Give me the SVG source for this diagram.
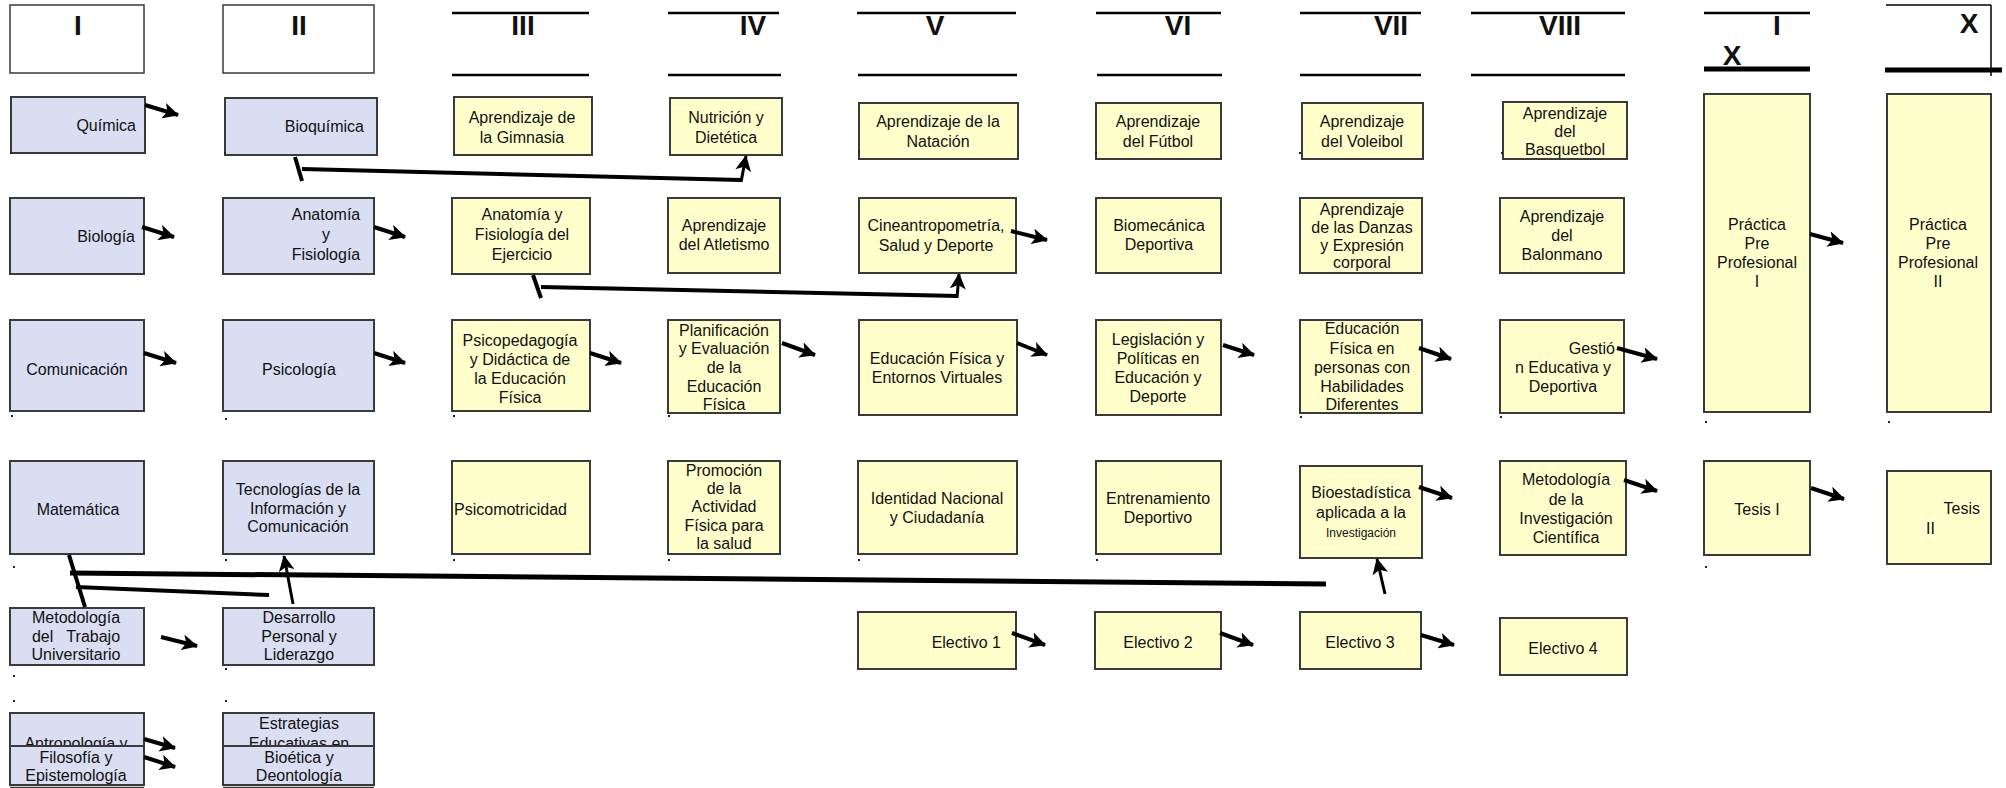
<svg xmlns="http://www.w3.org/2000/svg" width="2006" height="788" viewBox="0 0 2006 788">
<style>
.b{fill:#d9def2;stroke:#3a3a3a;stroke-width:2}
.y{fill:#ffffcc;stroke:#3a3a3a;stroke-width:2}
.hb{fill:#fff;stroke:#3a3a3a;stroke-width:1.5}
text{font-family:"Liberation Sans",Arial,sans-serif;font-size:16px;fill:#111}
.c{text-anchor:middle}
.e{text-anchor:end}
.h{font-size:28px;font-weight:bold;text-anchor:middle}
.hl{stroke:#000;stroke-width:2.5}
.ht{stroke:#000;stroke-width:5}
.k{stroke:#000;stroke-width:4;fill:none}
.a{stroke:#000;stroke-width:4;fill:none;marker-end:url(#ah)}
.au{stroke:#000;stroke-width:3;fill:none;marker-end:url(#ah)}
.d{fill:#222}
</style>
<defs>
<marker id="ah" markerUnits="userSpaceOnUse" markerWidth="18" markerHeight="16" refX="15" refY="8" orient="auto">
<path d="M0,0 L16,8 L0,16 L4,8 z" fill="#000"/>
</marker>
</defs>
<rect width="2006" height="788" fill="#fff"/>

<g id="headers">
<rect class="hb" x="10" y="5" width="134" height="68"/><text class="h" x="78" y="35">I</text>
<rect class="hb" x="223" y="5" width="151" height="68"/><text class="h" x="299" y="35">II</text>
<line class="hl" x1="452" y1="13" x2="589" y2="13"/><line class="hl" x1="452" y1="75" x2="589" y2="75"/><text class="h" x="523" y="35">III</text>
<line class="hl" x1="668" y1="13" x2="779" y2="13"/><line class="hl" x1="668" y1="75" x2="781" y2="75"/><text class="h" x="753" y="35">IV</text>
<line class="hl" x1="857" y1="13" x2="1016" y2="13"/><line class="hl" x1="858" y1="75" x2="1017" y2="75"/><text class="h" x="935" y="35">V</text>
<line class="hl" x1="1096" y1="13" x2="1221" y2="13"/><line class="hl" x1="1097" y1="75" x2="1222" y2="75"/><text class="h" x="1178" y="35">VI</text>
<line class="hl" x1="1300" y1="13" x2="1421" y2="13"/><line class="hl" x1="1300" y1="75" x2="1421" y2="75"/><text class="h" x="1391" y="35">VII</text>
<line class="hl" x1="1471" y1="13" x2="1625" y2="13"/><line class="hl" x1="1471" y1="75" x2="1625" y2="75"/><text class="h" x="1560" y="35">VIII</text>
<line class="hl" x1="1704" y1="13" x2="1810" y2="13"/><line class="ht" x1="1704" y1="69" x2="1810" y2="69"/><text class="h" x="1777" y="35">I</text><text class="h" x="1732" y="65">X</text>
<line stroke="#000" stroke-width="1.5" x1="1886" y1="5" x2="1991" y2="5"/><line stroke="#000" stroke-width="1.5" x1="1991" y1="5" x2="1991" y2="76"/><line class="ht" x1="1885" y1="70" x2="2002" y2="70"/><text class="h" x="1969" y="33">X</text>
</g>

<g id="quimica"><rect class="b" x="11" y="97" width="134" height="56"/><text class="e" x="136" y="131">Química</text></g>
<g id="bioquimica"><rect class="b" x="225" y="98" width="152" height="57"/><text class="e" x="364" y="132">Bioquímica</text></g>
<g id="gimnasia"><rect class="y" x="454" y="97" width="138" height="58"/><text class="c" x="522" y="123">Aprendizaje de</text><text class="c" x="522" y="143">la Gimnasia</text></g>
<g id="nutricion"><rect class="y" x="670" y="98" width="112" height="57"/><text class="c" x="726" y="123">Nutrición y</text><text class="c" x="726" y="143">Dietética</text></g>
<g id="natacion"><rect class="y" x="859" y="103" width="159" height="56"/><text class="c" x="938" y="127">Aprendizaje de la</text><text class="c" x="938" y="147">Natación</text></g>
<g id="futbol"><rect class="y" x="1096" y="103" width="125" height="56"/><text class="c" x="1158" y="127">Aprendizaje</text><text class="c" x="1158" y="147">del Fútbol</text></g>
<g id="voleibol"><rect class="y" x="1302" y="103" width="121" height="56"/><text class="c" x="1362" y="127">Aprendizaje</text><text class="c" x="1362" y="147">del Voleibol</text></g>
<g id="basquetbol"><rect class="y" x="1503" y="102" width="124" height="57"/><text class="c" x="1565" y="119">Aprendizaje</text><text class="c" x="1565" y="137">del</text><text class="c" x="1565" y="155">Basquetbol</text></g>
<g id="practica1"><rect class="y" x="1704" y="94" width="106" height="318"/><text class="c" x="1757" y="230">Práctica</text><text class="c" x="1757" y="249">Pre</text><text class="c" x="1757" y="268">Profesional</text><text class="c" x="1757" y="287">I</text></g>
<g id="practica2"><rect class="y" x="1887" y="94" width="104" height="318"/><text class="c" x="1938" y="230">Práctica</text><text class="c" x="1938" y="249">Pre</text><text class="c" x="1938" y="268">Profesional</text><text class="c" x="1938" y="287">II</text></g>

<g id="biologia"><rect class="b" x="10" y="198" width="134" height="76"/><text class="e" x="135" y="242">Biología</text></g>
<g id="anatfis"><rect class="b" x="223" y="198" width="151" height="76"/><text class="c" x="326" y="220">Anatomía</text><text class="c" x="326" y="240">y</text><text class="c" x="326" y="260">Fisiología</text></g>
<g id="afe"><rect class="y" x="452" y="198" width="138" height="76"/><text class="c" x="522" y="220">Anatomía y</text><text class="c" x="522" y="240">Fisiología del</text><text class="c" x="522" y="260">Ejercicio</text></g>
<g id="atletismo"><rect class="y" x="668" y="198" width="112" height="75"/><text class="c" x="724" y="231">Aprendizaje</text><text class="c" x="724" y="250">del Atletismo</text></g>
<g id="cine"><rect class="y" x="859" y="198" width="157" height="75"/><text class="c" x="936" y="231">Cineantropometría,</text><text class="c" x="936" y="251">Salud y Deporte</text></g>
<g id="biomecanica"><rect class="y" x="1096" y="198" width="125" height="75"/><text class="c" x="1159" y="231">Biomecánica</text><text class="c" x="1159" y="250">Deportiva</text></g>
<g id="danzas"><rect class="y" x="1300" y="198" width="122" height="75"/><text class="c" x="1362" y="215">Aprendizaje</text><text class="c" x="1362" y="233">de las Danzas</text><text class="c" x="1362" y="251">y Expresión</text><text class="c" x="1362" y="268">corporal</text></g>
<g id="balonmano"><rect class="y" x="1500" y="198" width="124" height="75"/><text class="c" x="1562" y="222">Aprendizaje</text><text class="c" x="1562" y="241">del</text><text class="c" x="1562" y="260">Balonmano</text></g>

<g id="comunicacion"><rect class="b" x="10" y="320" width="134" height="91"/><text class="c" x="77" y="375">Comunicación</text></g>
<g id="psicologia"><rect class="b" x="223" y="320" width="151" height="91"/><text class="c" x="299" y="375">Psicología</text></g>
<g id="psicopedagogia"><rect class="y" x="452" y="320" width="138" height="91"/><text class="c" x="520" y="346">Psicopedagogía</text><text class="c" x="520" y="365">y Didáctica de</text><text class="c" x="520" y="384">la Educación</text><text class="c" x="520" y="403">Física</text></g>
<g id="planificacion"><rect class="y" x="668" y="320" width="112" height="93"/><text class="c" x="724" y="336">Planificación</text><text class="c" x="724" y="354">y Evaluación</text><text class="c" x="724" y="373">de la</text><text class="c" x="724" y="392">Educación</text><text class="c" x="724" y="410">Física</text></g>
<g id="entornos"><rect class="y" x="859" y="320" width="158" height="95"/><text class="c" x="937" y="364">Educación Física y</text><text class="c" x="937" y="383">Entornos Virtuales</text></g>
<g id="legislacion"><rect class="y" x="1096" y="320" width="125" height="95"/><text class="c" x="1158" y="345">Legislación y</text><text class="c" x="1158" y="364">Políticas en</text><text class="c" x="1158" y="383">Educación y</text><text class="c" x="1158" y="402">Deporte</text></g>
<g id="efpersonas"><rect class="y" x="1300" y="320" width="122" height="93"/><text class="c" x="1362" y="334">Educación</text><text class="c" x="1362" y="354">Física en</text><text class="c" x="1362" y="373">personas con</text><text class="c" x="1362" y="392">Habilidades</text><text class="c" x="1362" y="410">Diferentes</text></g>
<g id="gestion"><rect class="y" x="1500" y="320" width="124" height="93"/><text class="e" x="1615" y="354">Gestió</text><text class="c" x="1563" y="373">n Educativa y</text><text class="c" x="1563" y="392">Deportiva</text></g>

<g id="matematica"><rect class="b" x="10" y="461" width="134" height="93"/><text class="c" x="78" y="515">Matemática</text></g>
<g id="tic"><rect class="b" x="223" y="461" width="151" height="93"/><text class="c" x="298" y="495">Tecnologías de la</text><text class="c" x="298" y="514">Información y</text><text class="c" x="298" y="532">Comunicación</text></g>
<g id="psicomotricidad"><rect class="y" x="452" y="461" width="138" height="93"/><text x="454" y="515">Psicomotricidad</text></g>
<g id="promocion"><rect class="y" x="668" y="461" width="112" height="93"/><text class="c" x="724" y="476">Promoción</text><text class="c" x="724" y="494">de la</text><text class="c" x="724" y="512">Actividad</text><text class="c" x="724" y="531">Física para</text><text class="c" x="724" y="549">la salud</text></g>
<g id="identidad"><rect class="y" x="858" y="461" width="159" height="93"/><text class="c" x="937" y="504">Identidad Nacional</text><text class="c" x="937" y="523">y Ciudadanía</text></g>
<g id="entrenamiento"><rect class="y" x="1096" y="461" width="125" height="93"/><text class="c" x="1158" y="504">Entrenamiento</text><text class="c" x="1158" y="523">Deportivo</text></g>
<g id="bioestadistica"><rect class="y" x="1300" y="466" width="122" height="92"/><text class="c" x="1361" y="498">Bioestadística</text><text class="c" x="1361" y="518">aplicada a la</text><text class="c" x="1361" y="537" style="font-size:12px">Investigación</text></g>
<g id="metinv"><rect class="y" x="1500" y="461" width="126" height="94"/><text class="c" x="1566" y="485">Metodología</text><text class="c" x="1566" y="505">de la</text><text class="c" x="1566" y="524">Investigación</text><text class="c" x="1566" y="543">Científica</text></g>
<g id="tesis1"><rect class="y" x="1704" y="461" width="106" height="94"/><text class="c" x="1757" y="515">Tesis I</text></g>
<g id="tesis2"><rect class="y" x="1887" y="471" width="104" height="93"/><text class="e" x="1980" y="514">Tesis</text><text x="1926" y="534">II</text></g>

<g id="mtu"><rect class="b" x="10" y="608" width="134" height="57"/><text class="c" x="76" y="623">Metodología</text><text class="c" x="76" y="642" xml:space="preserve">del   Trabajo</text><text class="c" x="76" y="660">Universitario</text></g>
<g id="desarrollo"><rect class="b" x="223" y="608" width="151" height="57"/><text class="c" x="299" y="623">Desarrollo</text><text class="c" x="299" y="642">Personal y</text><text class="c" x="299" y="660">Liderazgo</text></g>
<g id="electivo1"><rect class="y" x="858" y="612" width="158" height="57"/><text class="e" x="1001" y="648">Electivo 1</text></g>
<g id="electivo2"><rect class="y" x="1095" y="612" width="126" height="57"/><text class="c" x="1158" y="648">Electivo 2</text></g>
<g id="electivo3"><rect class="y" x="1300" y="612" width="121" height="57"/><text class="c" x="1360" y="648">Electivo 3</text></g>
<g id="electivo4"><rect class="y" x="1500" y="618" width="127" height="57"/><text class="c" x="1563" y="654">Electivo 4</text></g>

<g id="antropologia"><rect class="b" x="10" y="713" width="134" height="40"/><text class="c" x="76" y="749">Antropología y</text></g>
<g id="filosofia"><rect class="b" x="10" y="746" width="134" height="39"/><text class="c" x="76" y="763">Filosofía y</text><text class="c" x="76" y="781">Epistemología</text><line stroke="#3a3a3a" stroke-width="1.5" x1="10" y1="787.5" x2="144" y2="787.5"/></g>
<g id="estrategias"><rect class="b" x="223" y="713" width="151" height="40"/><text class="c" x="299" y="729">Estrategias</text><text class="c" x="299" y="749">Educativas en</text></g>
<g id="bioetica"><rect class="b" x="223" y="746" width="151" height="39"/><text class="c" x="299" y="763">Bioética y</text><text class="c" x="299" y="781">Deontología</text><line stroke="#3a3a3a" stroke-width="1.5" x1="223" y1="787.5" x2="374" y2="787.5"/></g>

<g id="connectors">
<path class="a" d="M145,105 L178,115"/>
<path class="a" d="M142,227 L174,237"/>
<path class="a" d="M374,227 L405,237"/>
<path class="a" d="M1011,231 L1047,240"/>
<path class="a" d="M1810,234 L1843,243"/>
<path class="a" d="M144,353 L176,363"/>
<path class="a" d="M374,353 L405,363"/>
<path class="a" d="M590,353 L621,363"/>
<path class="a" d="M782,343 L815,355"/>
<path class="a" d="M1017,343 L1047,355"/>
<path class="a" d="M1223,345 L1254,355"/>
<path class="a" d="M1419,348 L1451,359"/>
<path class="a" d="M1617,348 L1657,359"/>
<path class="a" d="M1419,487 L1452,498"/>
<path class="a" d="M1624,480 L1657,491"/>
<path class="a" d="M1811,488 L1844,499"/>
<path class="a" d="M161,637 L197,646"/>
<path class="a" d="M1012,633 L1045,645"/>
<path class="a" d="M1220,633 L1253,645"/>
<path class="a" d="M1421,635 L1454,645"/>
<path class="a" d="M144,739 L175,748"/>
<path class="a" d="M144,757 L175,767"/>
<line class="k" x1="295" y1="157" x2="302" y2="181"/>
<path class="k" d="M302,169 L741,180"/>
<path class="au" d="M741,182 L746,156"/>
<line class="k" x1="533" y1="275" x2="541" y2="298"/>
<path class="k" d="M541,287 L958,296"/>
<path class="au" d="M957,298 L959,274"/>
<line class="k" x1="69" y1="555" x2="85" y2="607"/>
<line stroke="#000" stroke-width="5" x1="70" y1="573" x2="1326" y2="584"/>
<line class="k" x1="76" y1="587" x2="269" y2="595"/>
<path class="au" d="M293,604 L284,556"/>
<path class="au" d="M1385,594 L1377,559"/>
</g>

<g id="marks">
<rect class="d" x="10" y="152" width="2" height="2"/><rect class="d" x="224" y="152" width="2" height="2"/><rect class="d" x="858" y="151" width="2" height="2"/><rect class="d" x="1095" y="152" width="2" height="2"/><rect class="d" x="1299" y="152" width="2" height="2"/><rect class="d" x="1501" y="152" width="2" height="2"/>
<rect class="d" x="11" y="415" width="2" height="2"/><rect class="d" x="225" y="418" width="2" height="2"/><rect class="d" x="453" y="415" width="2" height="2"/><rect class="d" x="668" y="415" width="2" height="2"/><rect class="d" x="1300" y="416" width="2" height="2"/><rect class="d" x="1500" y="416" width="2" height="2"/><rect class="d" x="1705" y="421" width="2" height="2"/><rect class="d" x="1888" y="421" width="2" height="2"/>
<rect class="d" x="13" y="566" width="2" height="2"/><rect class="d" x="225" y="559" width="2" height="2"/><rect class="d" x="453" y="559" width="2" height="2"/><rect class="d" x="668" y="559" width="2" height="2"/><rect class="d" x="858" y="559" width="2" height="2"/><rect class="d" x="1096" y="559" width="2" height="2"/><rect class="d" x="1705" y="566" width="2" height="2"/>
<rect class="d" x="13" y="675" width="2" height="2"/><rect class="d" x="225" y="668" width="2" height="2"/><rect class="d" x="13" y="700" width="2" height="2"/><rect class="d" x="225" y="700" width="2" height="2"/>
</g>
</svg>
